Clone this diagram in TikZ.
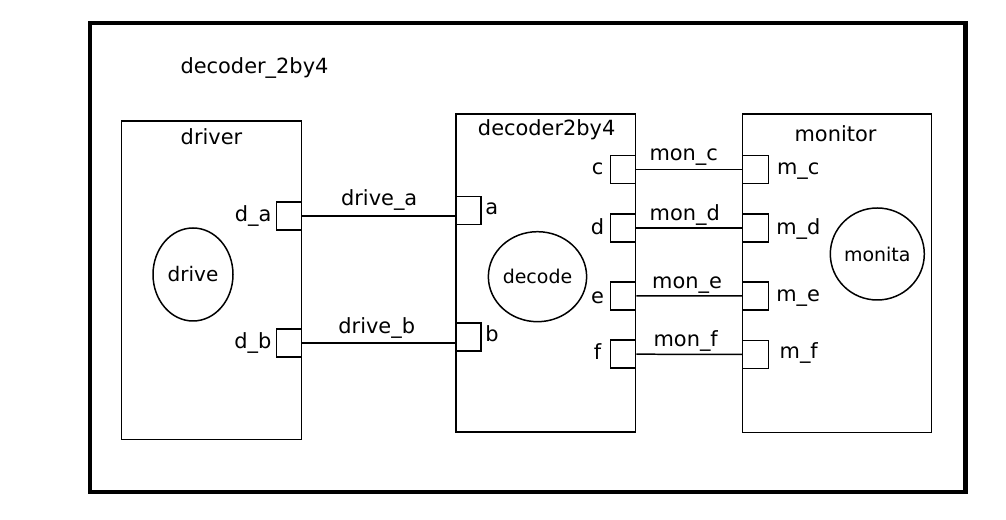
\documentclass[tikz,border=0pt]{standalone}
\usepackage{fontspec}
\setmainfont{DejaVu Sans}
\usetikzlibrary{shapes.geometric}

\tikzset{
  module/.style={draw, line width=0.85pt, rectangle, minimum width=3.6cm, minimum height=6.37cm},
  port/.style={draw, line width=0.85pt, rectangle, inner sep=0pt, minimum width=0.5cm, minimum height=0.56cm},
  process/.style={draw, line width=0.85pt, ellipse, inner sep=0pt, minimum width=1.62cm, minimum height=1.84cm, font=\fontsize{10.8}{13}\selectfont},
  txt/.style={anchor=base, inner sep=0pt, font=\fontsize{11.9}{14}\selectfont},
  wire/.style={line width=0.85pt}
}

\begin{document}
\begin{tikzpicture}

   \useasboundingbox (0,0) rectangle (20.12,10.4);

   \node (top) at (10.555,5.25) [draw, line width=2.55pt, minimum width=17.51cm, minimum height=9.38cm] {};
   \node (title) at (5.09,8.934) [txt] {decoder\_2by4};

   \node (driver) at (4.23,4.795) [module] {};
   \node (decoder) at (10.915,4.94) [module, minimum width=3.59cm, minimum height=6.36cm] {};
   \node (monitor) at (16.74,4.935) [module, minimum width=3.78cm] {};

   \node (drivername) at (4.23,7.514) [txt] {driver};
   \node (decodername) at (10.934,7.68) [txt] {decoder2by4};
   \node (monitorname) at (16.71,7.566) [txt] {monitor};

   \node (drive) at (3.86,4.91) [process, minimum width=1.6cm, minimum height=1.86cm, font=\fontsize{11.4}{13}\selectfont] {drive};
   \node (decode) at (10.75,4.866) [process, minimum height=1.8cm] {decode};
   \node (monita) at (17.546,5.32) [process, minimum width=1.68cm] {monita};

   \node (pda) at (5.78,6.076) [port] {};
   \node (pdb) at (5.78,3.54) [port] {};
   \node (pa) at (9.37,6.19) [port] {};
   \node (pb) at (9.37,3.656) [port] {};
   \node (pc) at (12.46,7.01) [port] {};
   \node (pd) at (12.46,5.836) [port] {};
   \node (pe) at (12.46,4.48) [port] {};
   \node (pf) at (12.46,3.316) [port] {};
   \node (pmc) at (15.11,7.01) [port, minimum width=0.52cm] {};
   \node (pmd) at (15.11,5.836) [port, minimum width=0.52cm] {};
   \node (pme) at (15.11,4.482) [port, minimum width=0.52cm] {};
   \node (pmf) at (15.11,3.31) [port, minimum width=0.52cm] {};

   \node (da) at (5.434,5.966) [txt, anchor=base east] {d\_a};
   \node (db) at (5.434,3.434) [txt, anchor=base east] {d\_b};
   \node (a) at (9.70,6.10) [txt, anchor=base west] {a};
   \node (b) at (9.70,3.566) [txt, anchor=base west] {b};
   \node (c) at (11.95,6.90) [txt] {c};
   \node (d) at (11.95,5.70) [txt] {d};
   \node (e) at (11.95,4.334) [txt] {e};
   \node (f) at (11.95,3.20) [txt] {f};
   \node (mc) at (15.534,6.90) [txt, anchor=base west] {m\_c};
   \node (md) at (15.52,5.70) [txt, anchor=base west] {m\_d};
   \node (me) at (15.52,4.366) [txt, anchor=base west] {m\_e};
   \node (mf) at (15.586,3.22) [txt, anchor=base west] {m\_f};

   \node (drivea) at (7.584,6.28) [txt] {drive\_a};
   \node (driveb) at (7.534,3.734) [txt] {drive\_b};
   \node (monc) at (13.674,7.186) [txt] {mon\_c};
   \node (mond) at (13.694,5.98) [txt] {mon\_d};
   \node (mone) at (13.74,4.634) [txt] {mon\_e};
   \node (monf) at (13.714,3.466) [txt] {mon\_f};

   \draw [wire] (pda.east) -- (pda.east -| pa.west);
   \draw [wire] (pdb.east) -- (pdb.east -| pb.west);

   \draw [wire] (pc.east) -- (pmc.west);
   \draw [wire] (pd.east) -- (pmd.west);
   \draw [wire] (pe.east) -- (pme.west);
   \draw [wire] (pf.east) -- (pmf.west);

\end{tikzpicture}
\end{document}
